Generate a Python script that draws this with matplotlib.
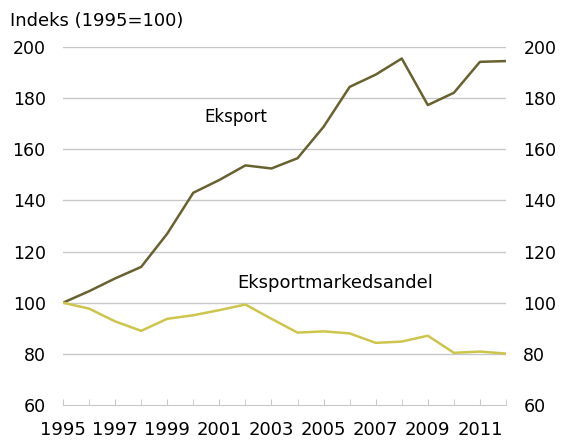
import matplotlib.pyplot as plt
from matplotlib.ticker import MultipleLocator

years = list(range(1995, 2013))
eksport = [100, 104.5, 109.5, 114, 127, 143, 148, 153.7, 152.5, 156.5,
           168.8, 184.4, 189.2, 195.5, 177.3, 182.1, 194.2, 194.5]
andel = [100, 97.7, 92.7, 89, 93.7, 95.1, 97.1, 99.3, 93.7, 88.3,
         88.8, 88.0, 84.3, 84.8, 87.1, 80.4, 80.9, 80.1]
yticks = [60, 80, 100, 120, 140, 160, 180, 200]
xlabels = list(range(1995, 2013, 2))

plt.rcParams['font.family'] = 'DejaVu Sans'
fig = plt.figure(figsize=(5.61, 4.42), dpi=100)
ax = fig.add_axes([63/561, 1-405/442, 443/561, 358/442])

for y in yticks[1:]:
    ax.axhline(y, color='#c8c8c8', lw=1, zorder=0)

ax.plot(years, eksport, color='#67622f', lw=1.8)
ax.plot(years, andel, color='#cdc54c', lw=1.8)

ax.set_xlim(1995, 2012)
ax.set_ylim(60, 200)
ax.set_yticks(yticks)
ax.set_xticks(xlabels)
ax.xaxis.set_minor_locator(MultipleLocator(1))

for s in ['top', 'left', 'right']:
    ax.spines[s].set_visible(False)
ax.spines['bottom'].set_color('#c8c8c8')

ax.tick_params(axis='y', length=0, labelsize=12.5, pad=12.5,
               labelleft=True, labelright=True)
ax.tick_params(axis='x', which='both', direction='in', length=4,
               color='#c8c8c8', labelsize=13, pad=11.5)
ax.tick_params(axis='x', which='minor', labelbottom=False)

ax.text(2000.41, 172.7, 'Eksport', fontsize=12, va='center')
ax.text(2001.7, 107.6, 'Eksportmarkedsandel', fontsize=13, va='center')
fig.text(10/561, 1-21/442, 'Indeks (1995=100)', fontsize=13, va='center')

fig.savefig('out.png', dpi=100)
